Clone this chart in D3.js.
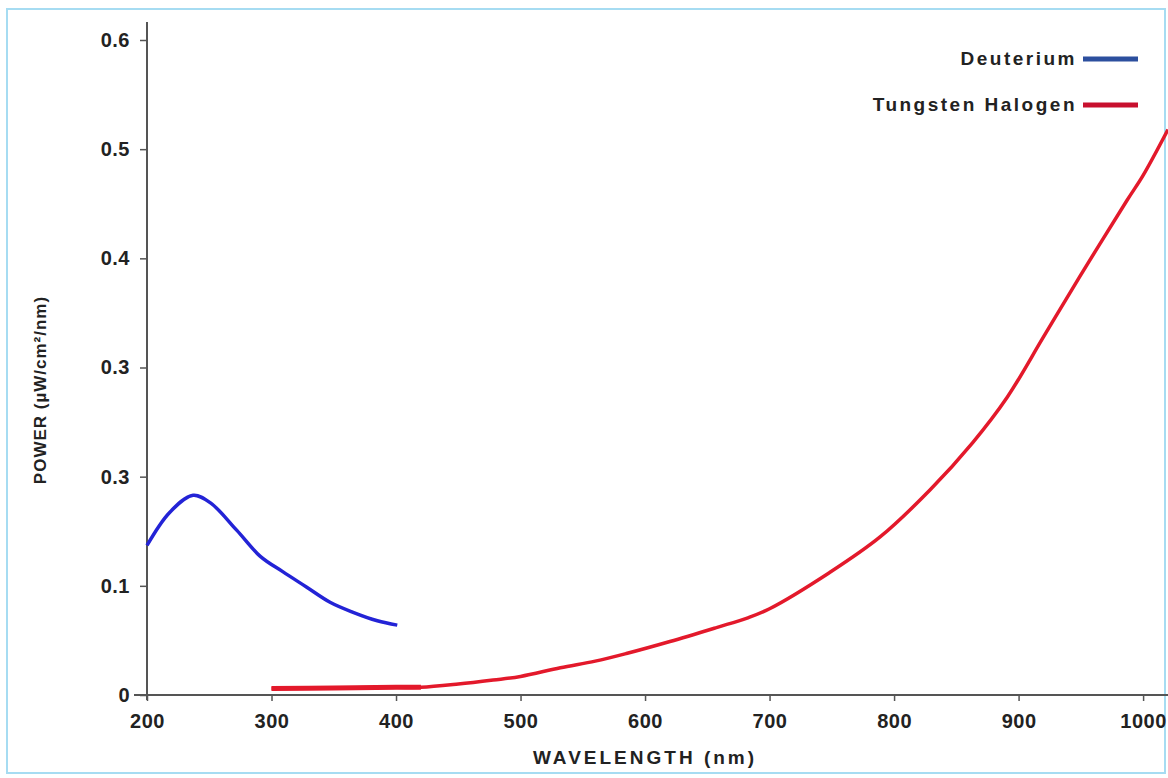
<!DOCTYPE html>
<html>
<head>
<meta charset="utf-8">
<script src="https://cdn.jsdelivr.net/npm/d3@7"></script>
<style>
  body { margin: 0; background: white; }
  text { font-family: "Liberation Sans", Arial, sans-serif; font-weight: bold; fill: #222; }
</style>
</head>
<body>
<div id="viz-container"></div>
<script>
let w = 1168;
let h = 778;

// deuterium lamp (nm, µW/cm²/nm)
let deutWave = [200, 218, 237, 251, 272, 291, 309, 328, 347, 365, 385, 401];
let deutPower = [0.137, 0.167, 0.183, 0.176, 0.151, 0.127, 0.113, 0.099, 0.085, 0.076, 0.068, 0.064];

// tungsten halogen lamp
let tungWave = [300, 350, 400, 420, 450, 478, 500, 532, 560, 585, 620, 658, 682, 700, 748, 789, 829, 863, 891, 920, 949, 987, 1000, 1020];
let tungPower = [0.006, 0.0065, 0.007, 0.007, 0.010, 0.0137, 0.017, 0.025, 0.031, 0.038, 0.049, 0.062, 0.0705, 0.079, 0.112, 0.145, 0.188, 0.231, 0.273, 0.328, 0.383, 0.453, 0.476, 0.518];

let xTicks = [200, 300, 400, 500, 600, 700, 800, 900, 1000];
let yTicks = [0, 0.1, 0.2, 0.3, 0.4, 0.5, 0.6];
// the original chart labels 0.2 as "0.3", kept as drawn
let yTickLabels = ["0", "0.1", "0.3", "0.3", "0.4", "0.5", "0.6"];

let seriesNames = ["Deuterium", "Tungsten Halogen"];
let seriesColors = ["#2323d6", "#e3192b"];
let legendColors = ["#2c4f9e", "#c8102e"];

let viz = d3.select("#viz-container")
  .append("svg")
    .attr("width", w)
    .attr("height", h)
    .style("background-color", "white")
;

// light blue frame round the picture
viz.append("rect")
  .attr("x", 7)
  .attr("y", 9)
  .attr("width", 1158)
  .attr("height", 764)
  .attr("fill", "none")
  .attr("stroke", "#a6dcf2")
  .attr("stroke-width", 2)
;

let xScale = d3.scaleLinear().domain([200, 1020]).range([147, 1168]);
let yScale = d3.scaleLinear().domain([0, 0.6]).range([695, 40]);

let xAxis = d3.axisBottom(xScale)
  .tickValues(xTicks)
  .tickFormat(d3.format("d"))
  .tickSize(6)
  .tickPadding(13)
  .tickSizeOuter(0)
;

let yAxis = d3.axisLeft(yScale)
  .tickValues(yTicks)
  .tickFormat(function(d, i){ return yTickLabels[i]; })
  .tickSize(7)
  .tickPadding(10)
  .tickSizeOuter(0)
;

let xg = viz.append("g")
  .attr("transform", "translate(0,695)")
  .call(xAxis)
;
xg.select(".domain").remove();
xg.append("line")
  .attr("x1", 134)
  .attr("x2", 1168)
  .attr("stroke", "#555")
  .attr("stroke-width", 2)
;

let yg = viz.append("g")
  .attr("transform", "translate(147,0)")
  .call(yAxis)
;
yg.select(".domain").remove();
yg.append("line")
  .attr("y1", 22)
  .attr("y2", 700)
  .attr("stroke", "#555")
  .attr("stroke-width", 2)
;

viz.selectAll(".tick line")
  .attr("stroke", "#555")
  .attr("stroke-width", 1.5)
;
viz.selectAll(".tick text")
  .style("font-size", "20px")
  .style("letter-spacing", "0.5px")
  .attr("fill", "#222")
;

// axis titles
viz.append("text")
  .attr("x", 645)
  .attr("y", 764)
  .attr("text-anchor", "middle")
  .style("font-size", "19px")
  .style("letter-spacing", "3px")
  .text("WAVELENGTH (nm)")
;

viz.append("text")
  .attr("transform", "translate(46,390) rotate(-90)")
  .attr("text-anchor", "middle")
  .style("font-size", "17px")
  .style("letter-spacing", "1px")
  .text("POWER (µW/cm²/nm)")
;

let line = d3.line()
  .x(function(d){ return xScale(d[0]); })
  .y(function(d){ return yScale(d[1]); })
  .curve(d3.curveCatmullRom.alpha(0.5))
;

let deutData = deutWave.map(function(d, i){ return [d, deutPower[i]]; });
let tungData = tungWave.map(function(d, i){ return [d, tungPower[i]]; });

viz.append("path")
  .datum(tungData)
  .attr("d", line)
  .attr("fill", "none")
  .attr("stroke", seriesColors[1])
  .attr("stroke-width", 3.5)
;

// the flat start of the halogen trace is drawn heavier
viz.append("path")
  .datum(tungData.filter(function(d){ return d[0] <= 420; }))
  .attr("d", line)
  .attr("fill", "none")
  .attr("stroke", seriesColors[1])
  .attr("stroke-width", 5)
;

viz.append("path")
  .datum(deutData)
  .attr("d", line)
  .attr("fill", "none")
  .attr("stroke", seriesColors[0])
  .attr("stroke-width", 3.5)
;

// legend
let legend = viz.selectAll(".legenditem").data(seriesNames).enter()
  .append("g")
    .attr("class", "legenditem")
    .attr("transform", function(d, i){ return "translate(0," + (59 + i * 46) + ")"; })
;

legend.append("text")
  .attr("x", 1077)
  .attr("y", 6)
  .attr("text-anchor", "end")
  .style("font-size", "19px")
  .style("letter-spacing", "2.5px")
  .text(function(d){ return d; })
;

legend.append("line")
  .attr("x1", 1083)
  .attr("x2", 1138)
  .attr("stroke", function(d, i){ return legendColors[i]; })
  .attr("stroke-width", 5)
;
</script>
</body>
</html>
